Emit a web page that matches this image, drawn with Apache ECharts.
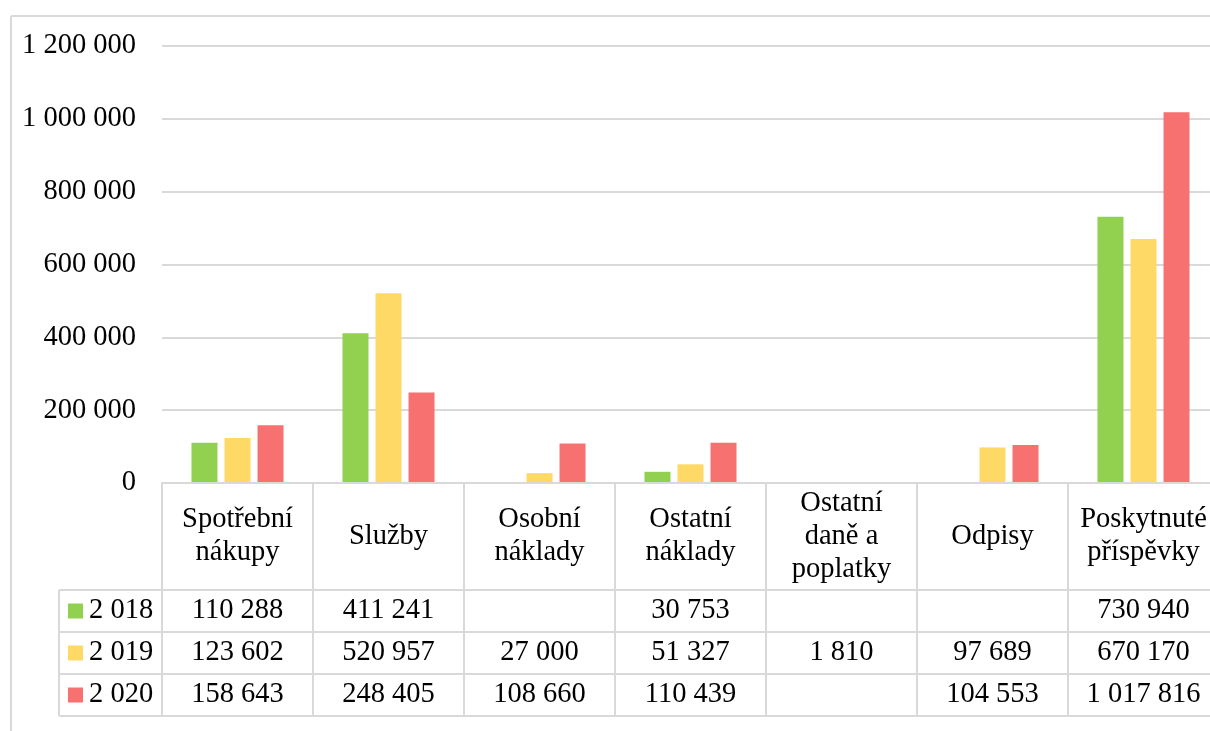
<!DOCTYPE html>
<html>
<head>
<meta charset="utf-8">
<script src="https://cdn.jsdelivr.net/npm/echarts@6/dist/echarts.min.js"></script>
<style>
  html, body { margin: 0; padding: 0; background: #fff; }
  #chart { width: 1210px; height: 731px; }
</style>
</head>
<body>
<div id="chart"></div>
<script>
// Categories of costs (header row of the data table)
const categories = [
  'Spotřební\nnákupy', 'Služby', 'Osobní\nnáklady', 'Ostatní\nnáklady',
  'Ostatní\ndaně a\npoplatky', 'Odpisy', 'Poskytnuté\npříspěvky'
];
// Series (years) and their values
const seriesNames = ['2 018', '2 019', '2 020'];
const values2018 = [110288, 411241, null, 30753, null, null, 730940];
const values2019 = [123602, 520957, 27000, 51327, 1810, 97689, 670170];
const values2020 = [158643, 248405, 108660, 110439, null, 104553, 1017816];
const seriesColors = ['#92D050', '#FFD966', '#F87171'];
// Value axis ticks
const yMin = 0, yMax = 1200000, yStep = 200000;

const FONT = "'Liberation Serif', 'Times New Roman', serif";
const FS = 28.5;
const LINE = '#d9d9d9';

function fmt(v) {
  return String(v).replace(/\B(?=(\d{3})+(?!\d))/g, ' ');
}

const allValues = [values2018, values2019, values2020];

// Geometry of the plot and the table below it
const gridLeft = 162, gridTop = 46, gridW = 1057, gridH = 437;
const headerBottom = 590;
const rowBottoms = [632, 674, 716];
const legendLeft = 59;

const chart = echarts.init(document.getElementById('chart'), null, { renderer: 'canvas' });

chart.setOption({
  animation: false,
  backgroundColor: '#fff',
  grid: { left: gridLeft, top: gridTop, width: gridW, height: gridH, outerBoundsMode: 'none', containLabel: false },
  xAxis: {
    type: 'category',
    data: categories,
    z: 3,
    axisLine: { show: true, lineStyle: { color: LINE, width: 2 } },
    axisTick: { show: true, length: rowBottoms[2] - (gridTop + gridH), lineStyle: { color: LINE, width: 2 } },
    axisLabel: {
      interval: 0, color: '#000', fontFamily: FONT, fontSize: FS,
      lineHeight: 33, verticalAlign: 'middle', margin: (headerBottom - (gridTop + gridH)) / 2
    }
  },
  yAxis: {
    type: 'value', min: yMin, max: yMax, interval: yStep,
    axisLine: { show: false }, axisTick: { show: false },
    splitLine: { lineStyle: { color: LINE, width: 2 } },
    axisLabel: { color: '#000', fontFamily: FONT, fontSize: FS, margin: 26, formatter: v => fmt(v) }
  },
  series: allValues.map((vals, i) => ({
    name: seriesNames[i],
    type: 'bar',
    data: vals,
    barWidth: 26,
    barGap: '27%',
    itemStyle: { color: seriesColors[i] }
  }))
});

// Data table under the plot
const graphics = [];
const rightEdge = gridLeft + gridW;

// outer chart border
graphics.push({ type: 'line', shape: { x1: 11, y1: 16, x2: 1210, y2: 16 }, style: { stroke: LINE, lineWidth: 2 } });
graphics.push({ type: 'line', shape: { x1: 11, y1: 16, x2: 11, y2: 731 }, style: { stroke: LINE, lineWidth: 2 } });

// horizontal row lines
[headerBottom].concat(rowBottoms).forEach(y => {
  graphics.push({ type: 'line', shape: { x1: legendLeft, y1: y, x2: rightEdge, y2: y }, style: { stroke: LINE, lineWidth: 2 } });
});
// left edge of the legend column
graphics.push({ type: 'line', shape: { x1: legendLeft, y1: headerBottom, x2: legendLeft, y2: rowBottoms[2] }, style: { stroke: LINE, lineWidth: 2 } });

const rowTops = [headerBottom].concat(rowBottoms.slice(0, 2));
allValues.forEach((vals, r) => {
  const cy = (rowTops[r] + rowBottoms[r]) / 2;
  // legend key + series name
  graphics.push({ type: 'rect', shape: { x: 68, y: cy - 7.5, width: 15, height: 15 }, style: { fill: seriesColors[r] } });
  graphics.push({ type: 'text', x: 89, y: cy, style: { text: seriesNames[r], font: FS + 'px ' + FONT, fill: '#000', verticalAlign: 'middle', align: 'left' } });
  vals.forEach((v, c) => {
    if (v == null) return;
    const cx = chart.convertToPixel({ xAxisIndex: 0 }, c);
    graphics.push({ type: 'text', x: cx, y: cy, style: { text: fmt(v), font: FS + 'px ' + FONT, fill: '#000', verticalAlign: 'middle', align: 'center' } });
  });
});

chart.setOption({ graphic: graphics });
</script>
</body>
</html>
